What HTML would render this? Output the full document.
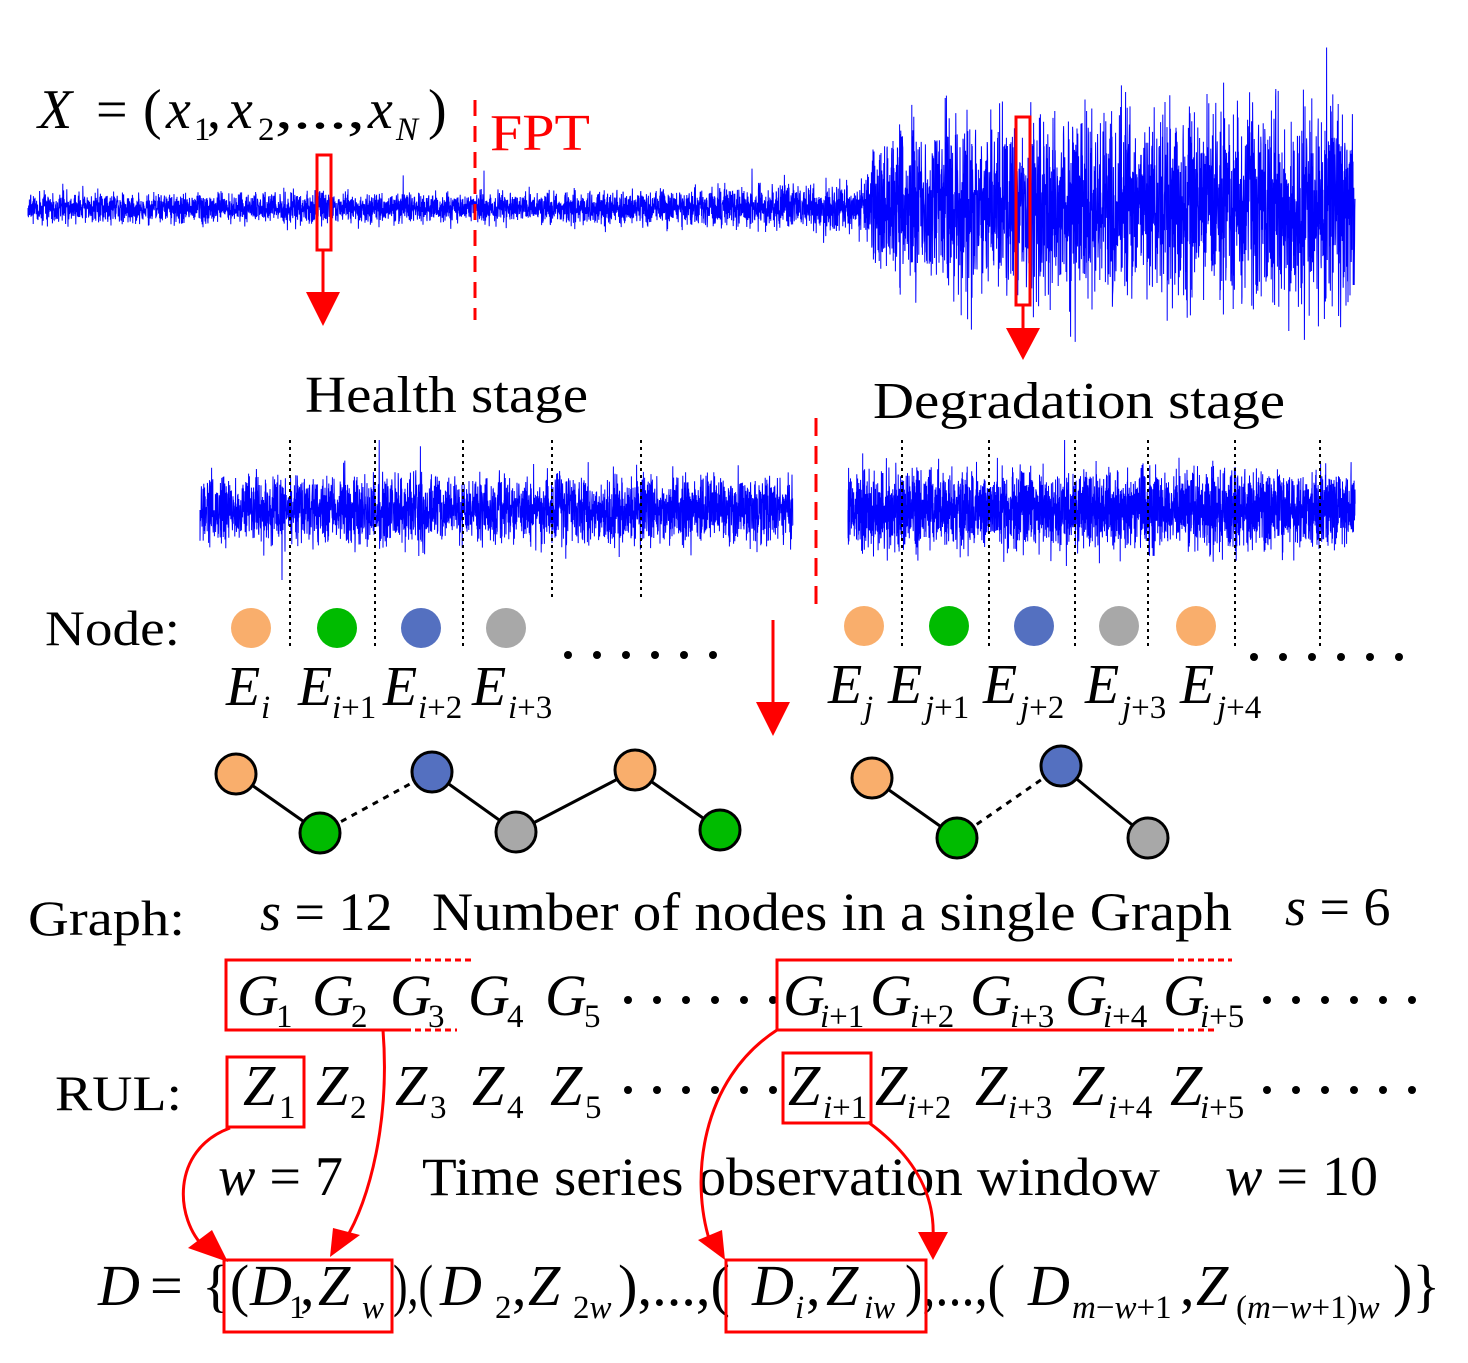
<!DOCTYPE html>
<html><head><meta charset="utf-8"><style>
body{margin:0;background:#fff}
svg{display:block}
text{font-family:"Liberation Serif",serif;fill:#000}
.i{font-style:italic}
.s{font-size:33px}
</style></head><body>
<svg id="svg" width="1468" height="1363" viewBox="0 0 1468 1363" xmlns="http://www.w3.org/2000/svg">
<g id="sig" stroke="#0000ff" stroke-width="1" fill="none"></g>

<g font-size="56">
<text x="38" y="128" class="i">X</text><text x="96" y="128">=</text>
<text x="143" y="128">(</text><text x="166" y="128" class="i">x</text><text x="194" y="140" class="s">1</text>
<text x="207" y="128">,</text><text x="228" y="128" class="i">x</text><text x="258" y="140" class="s">2</text>
<text x="275" y="128" textLength="90" lengthAdjust="spacingAndGlyphs">,...,</text><text x="368" y="128" class="i">x</text><text x="396" y="140" class="s i">N</text>
<text x="428" y="128">)</text>
</g>
<text x="490" y="150" font-size="52" textLength="100" lengthAdjust="spacingAndGlyphs" style="fill:#f00">FPT</text>
<line x1="475" y1="100" x2="475" y2="320" stroke="#f00" stroke-width="3" stroke-dasharray="16,10"/>

<rect x="317" y="155" width="14" height="95" fill="none" stroke="#f00" stroke-width="3"/>
<line x1="323" y1="250" x2="323" y2="300" stroke="#f00" stroke-width="3"/>
<polygon points="306,292 340,292 323,326" fill="#f00"/>
<rect x="1016" y="117" width="14" height="188" fill="none" stroke="#f00" stroke-width="3"/>
<line x1="1023" y1="305" x2="1023" y2="335" stroke="#f00" stroke-width="3"/>
<polygon points="1006,328 1040,328 1023,360" fill="#f00"/>

<text x="305" y="412" font-size="52" textLength="283" lengthAdjust="spacingAndGlyphs">Health stage</text>
<text x="873" y="418" font-size="52" textLength="412" lengthAdjust="spacingAndGlyphs">Degradation stage</text>
<line x1="816" y1="418" x2="816" y2="605" stroke="#f00" stroke-width="3" stroke-dasharray="18,10"/>

<g stroke="#000" stroke-width="2" stroke-dasharray="3,4">
<line x1="290" y1="440" x2="290" y2="650"/><line x1="375" y1="440" x2="375" y2="650"/>
<line x1="463" y1="440" x2="463" y2="650"/><line x1="552" y1="440" x2="552" y2="600"/>
<line x1="641" y1="440" x2="641" y2="600"/>
<line x1="902" y1="440" x2="902" y2="650"/><line x1="989" y1="440" x2="989" y2="650"/>
<line x1="1075" y1="440" x2="1075" y2="650"/><line x1="1148" y1="440" x2="1148" y2="650"/>
<line x1="1235" y1="440" x2="1235" y2="650"/><line x1="1320" y1="440" x2="1320" y2="650"/>
</g>

<text x="45" y="645" font-size="50" textLength="135" lengthAdjust="spacingAndGlyphs">Node:</text>
<circle cx="251" cy="628" r="20" fill="#f9ae6c"/><circle cx="337" cy="628" r="20" fill="#00bb00"/>
<circle cx="421" cy="628" r="20" fill="#5470c0"/><circle cx="506" cy="628" r="20" fill="#a8a8a8"/>
<circle cx="864" cy="626" r="20" fill="#f9ae6c"/><circle cx="949" cy="626" r="20" fill="#00bb00"/>
<circle cx="1034" cy="626" r="20" fill="#5470c0"/><circle cx="1119" cy="626" r="20" fill="#a8a8a8"/>
<circle cx="1196" cy="626" r="20" fill="#f9ae6c"/>
<g id="dots"></g>

<g font-size="56">
<text x="226" y="705" class="i">E</text><text x="261" y="718" class="s i">i</text>
<text x="298" y="705" class="i">E</text><text x="332" y="718" class="s"><tspan class="i">i</tspan>+1</text>
<text x="383" y="705" class="i">E</text><text x="418" y="718" class="s"><tspan class="i">i</tspan>+2</text>
<text x="472" y="705" class="i">E</text><text x="508" y="718" class="s"><tspan class="i">i</tspan>+3</text>
<text x="828" y="703" class="i">E</text><text x="864" y="718" class="s i">j</text>
<text x="888" y="703" class="i">E</text><text x="925" y="718" class="s"><tspan class="i">j</tspan>+1</text>
<text x="983" y="703" class="i">E</text><text x="1020" y="718" class="s"><tspan class="i">j</tspan>+2</text>
<text x="1085" y="703" class="i">E</text><text x="1122" y="718" class="s"><tspan class="i">j</tspan>+3</text>
<text x="1180" y="703" class="i">E</text><text x="1217" y="718" class="s"><tspan class="i">j</tspan>+4</text>
</g>
<line x1="773" y1="620" x2="773" y2="710" stroke="#f00" stroke-width="3"/>
<polygon points="756,702 790,702 773,736" fill="#f00"/>

<g stroke="#000" stroke-width="3">
<line x1="236" y1="774" x2="320" y2="833"/><line x1="320" y1="833" x2="432" y2="772" stroke-dasharray="6,6"/>
<line x1="432" y1="772" x2="516" y2="832"/><line x1="516" y1="832" x2="635" y2="770"/><line x1="635" y1="770" x2="720" y2="830"/>
<line x1="872" y1="778" x2="957" y2="838"/><line x1="957" y1="838" x2="1061" y2="766" stroke-dasharray="6,6"/>
<line x1="1061" y1="766" x2="1148" y2="838"/>
</g>
<g stroke="#000" stroke-width="3">
<circle cx="236" cy="774" r="20" fill="#f9ae6c"/><circle cx="320" cy="833" r="20" fill="#00bb00"/>
<circle cx="432" cy="772" r="20" fill="#5470c0"/><circle cx="516" cy="832" r="20" fill="#a8a8a8"/>
<circle cx="635" cy="770" r="20" fill="#f9ae6c"/><circle cx="720" cy="830" r="20" fill="#00bb00"/>
<circle cx="872" cy="778" r="20" fill="#f9ae6c"/><circle cx="957" cy="838" r="20" fill="#00bb00"/>
<circle cx="1061" cy="766" r="20" fill="#5470c0"/><circle cx="1148" cy="838" r="20" fill="#a8a8a8"/>
</g>

<text x="28" y="935" font-size="50" textLength="157" lengthAdjust="spacingAndGlyphs">Graph:</text>
<text x="260" y="930" font-size="54"><tspan class="i">s</tspan> = 12</text>
<text x="432" y="930" font-size="54" textLength="800" lengthAdjust="spacingAndGlyphs">Number of nodes in a single Graph</text>
<text x="1285" y="925" font-size="54"><tspan class="i">s</tspan> = 6</text>

<g font-size="58">
<text x="237" y="1015" class="i">G</text><text x="276" y="1027" class="s">1</text>
<text x="312" y="1015" class="i">G</text><text x="351" y="1027" class="s">2</text>
<text x="390" y="1015" class="i">G</text><text x="428" y="1027" class="s">3</text>
<text x="468" y="1015" class="i">G</text><text x="507" y="1027" class="s">4</text>
<text x="545" y="1015" class="i">G</text><text x="584" y="1027" class="s">5</text>
<text x="783" y="1015" class="i">G</text><text x="820" y="1027" class="s"><tspan class="i">i</tspan>+1</text>
<text x="870" y="1015" class="i">G</text><text x="910" y="1027" class="s"><tspan class="i">i</tspan>+2</text>
<text x="970" y="1015" class="i">G</text><text x="1010" y="1027" class="s"><tspan class="i">i</tspan>+3</text>
<text x="1065" y="1015" class="i">G</text><text x="1103" y="1027" class="s"><tspan class="i">i</tspan>+4</text>
<text x="1163" y="1015" class="i">G</text><text x="1200" y="1027" class="s"><tspan class="i">i</tspan>+5</text>
</g>
<g stroke="#f00" stroke-width="3" fill="none">
<polyline points="405,960 226,960 226,1030 405,1030"/>
<line x1="405" y1="960" x2="472" y2="960" stroke-dasharray="6,4"/>
<line x1="405" y1="1030" x2="457" y2="1030" stroke-dasharray="6,4"/>
<polyline points="1168,960 777,960 777,1030 1168,1030"/>
<line x1="1168" y1="960" x2="1232" y2="960" stroke-dasharray="6,4"/>
<line x1="1168" y1="1030" x2="1215" y2="1030" stroke-dasharray="6,4"/>
</g>

<text x="55" y="1110" font-size="50" textLength="127" lengthAdjust="spacingAndGlyphs">RUL:</text>
<g font-size="58">
<text x="243" y="1105" class="i">Z</text><text x="279" y="1118" class="s">1</text>
<text x="316" y="1105" class="i">Z</text><text x="350" y="1118" class="s">2</text>
<text x="395" y="1105" class="i">Z</text><text x="430" y="1118" class="s">3</text>
<text x="472" y="1105" class="i">Z</text><text x="507" y="1118" class="s">4</text>
<text x="550" y="1105" class="i">Z</text><text x="585" y="1118" class="s">5</text>
<text x="788" y="1105" class="i">Z</text><text x="823" y="1118" class="s"><tspan class="i">i</tspan>+1</text>
<text x="875" y="1105" class="i">Z</text><text x="907" y="1118" class="s"><tspan class="i">i</tspan>+2</text>
<text x="975" y="1105" class="i">Z</text><text x="1008" y="1118" class="s"><tspan class="i">i</tspan>+3</text>
<text x="1072" y="1105" class="i">Z</text><text x="1108" y="1118" class="s"><tspan class="i">i</tspan>+4</text>
<text x="1170" y="1105" class="i">Z</text><text x="1200" y="1118" class="s"><tspan class="i">i</tspan>+5</text>
</g>
<rect x="227" y="1057" width="77" height="70" fill="none" stroke="#f00" stroke-width="3"/>
<rect x="783" y="1053" width="88" height="70" fill="none" stroke="#f00" stroke-width="3"/>

<text x="218" y="1195" font-size="56"><tspan class="i">w</tspan> = 7</text>
<text x="422" y="1195" font-size="54" textLength="738" lengthAdjust="spacingAndGlyphs">Time series observation window</text>
<text x="1225" y="1195" font-size="56"><tspan class="i">w</tspan> = 10</text>

<g font-size="58">
<text x="98" y="1305" class="i">D</text><text x="150" y="1305">=</text>
<text x="202" y="1305">{(</text><text x="250" y="1305" class="i">D</text><text x="289" y="1318" class="s">1</text>
<text x="300" y="1305">,</text><text x="318" y="1305" class="i">Z</text><text x="362" y="1318" class="s i">w</text>
<text x="393" y="1305" textLength="40" lengthAdjust="spacingAndGlyphs">),(</text><text x="440" y="1305" class="i">D</text><text x="495" y="1318" class="s">2</text>
<text x="512" y="1305">,</text><text x="528" y="1305" class="i">Z</text><text x="573" y="1318" class="s">2<tspan class="i">w</tspan></text>
<text x="618" y="1305" textLength="112" lengthAdjust="spacingAndGlyphs">),...,(</text><text x="752" y="1305" class="i">D</text><text x="795" y="1318" class="s i">i</text>
<text x="806" y="1305">,</text><text x="826" y="1305" class="i">Z</text><text x="864" y="1318" class="s i">iw</text>
<text x="905" y="1305" textLength="100" lengthAdjust="spacingAndGlyphs">),...,(</text><text x="1028" y="1305" class="i">D</text><text x="1072" y="1318" class="s"><tspan class="i">m</tspan>−<tspan class="i">w</tspan>+1</text>
<text x="1180" y="1305">,</text><text x="1196" y="1305" class="i">Z</text><text x="1236" y="1318" class="s">(<tspan class="i">m</tspan>−<tspan class="i">w</tspan>+1)<tspan class="i">w</tspan></text>
<text x="1393" y="1305">)}</text>
</g>
<rect x="224" y="1260" width="168" height="72" fill="none" stroke="#f00" stroke-width="3"/>
<rect x="726" y="1260" width="200" height="72" fill="none" stroke="#f00" stroke-width="3"/>

<g stroke="#f00" stroke-width="3" fill="none">
<path d="M230,1128 C170,1150 175,1220 205,1248"/>
<path d="M383,1030 C390,1120 370,1200 345,1240"/>
<path d="M777,1030 C700,1080 690,1180 710,1242"/>
<path d="M868,1122 C920,1160 935,1200 933,1238"/>
</g>
<g fill="#f00">
<polygon points="188,1248 228,1262 212,1230"/>
<polygon points="330,1257 360,1235 333,1228"/>
<polygon points="698,1240 725,1260 722,1230"/>
<polygon points="918,1232 948,1232 933,1260"/>
</g>
</svg>
<script>
(function(){
var s=12345;function r(){s=(s*1103515245+12345)%2147483648;return s/2147483648;}
function g(){return (r()+r()+r()+r()-2)*1.2;}
function sig(x0,x1,cy,ampF,step,lim){var d="M"+x0+","+cy;
for(var x=x0;x<=x1;x+=step){var a=ampF(x);var v=g()*a;if(r()<0.008)v*=2.8;
v=Math.max(-lim,Math.min(lim,v));
var v2=g()*a;d+="L"+x.toFixed(1)+","+(cy+v).toFixed(1)+"L"+(x+step/2).toFixed(1)+","+(cy+v2).toFixed(1);}
return d;}
var G=document.getElementById('sig');
function add(d){var p=document.createElementNS('http://www.w3.org/2000/svg','path');p.setAttribute('d',d);G.appendChild(p);}
add(sig(28,1355,208,function(x){if(x<600)return 11;if(x<865)return 12+(x-600)/50;if(x<878)return 17+(x-865)*3.2;return 58+(x-878)/30;},0.4,160));
add(sig(200,793,510,function(){return 24;},0.4,70));
add(sig(848,1355,510,function(){return 27;},0.3,70));
var D=document.getElementById('dots'),h='';
function row(x0,y){for(var i=0;i<6;i++)h+='<circle cx="'+(x0+i*29)+'" cy="'+y+'" r="4" fill="#000"/>';}
row(568,655);row(1254,657);row(628,1000);row(1267,1000);row(628,1090);row(1267,1090);
D.innerHTML=h;
})();
</script>
</body></html>
